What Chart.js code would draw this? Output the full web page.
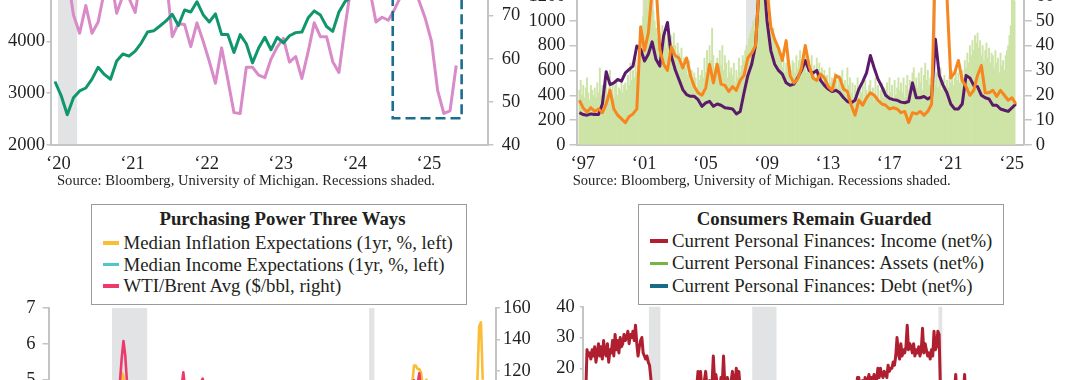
<!DOCTYPE html>
<html lang="en">
<head>
<meta charset="utf-8">
<title>Consumer survey panels</title>
<script src="https://cdn.jsdelivr.net/npm/chart.js@4.4.1/dist/chart.umd.min.js"></script>
<style>
  html, body { margin: 0; padding: 0; }
  body {
    width: 1080px; height: 380px; overflow: hidden; position: relative; background: #fff;
    font-family: "Liberation Serif", "Times New Roman", serif; color: #231f20;
  }
  canvas { position: absolute; }
  .source { position: absolute; font-size: 14.6px; line-height: 18px; white-space: nowrap; }
  .legend { position: absolute; box-sizing: border-box; border: 1.5px solid #9b9b9b; background: #fff; z-index: 2; }
  .legend .title { position: absolute; width: 400px; text-align: center; font-weight: bold; font-size: 18.8px; line-height: 22px; white-space: nowrap; }
  .legend .row { position: absolute; font-size: 18.8px; line-height: 22px; white-space: nowrap; }
  .legend .sw { position: absolute; height: 3.5px; }
</style>
</head>
<body>

<!-- top left: S&P 500 vs consumer expectations -->
<canvas id="sentChart" width="540" height="330" style="left:0;top:-140px;width:540px;height:330px"></canvas>
<div class="source" style="left:57px;top:171px">Source: Bloomberg, University of Michigan. Recessions shaded.</div>

<!-- top right: two survey lines over bars -->
<canvas id="laborChart" width="560" height="250" style="left:520px;top:-60px;width:560px;height:250px"></canvas>
<div class="source" style="left:572.7px;top:171px">Source: Bloomberg, University of Michigan. Recessions shaded.</div>

<!-- bottom left -->
<canvas id="powerChart" width="540" height="340" style="left:0;top:290px;width:540px;height:340px"></canvas>
<div class="legend" style="left:91px;top:203.5px;width:375.7px;height:101.5px">
  <div class="title" style="left:-9.5px;top:3px">Purchasing Power Three Ways</div>
  <span class="sw" style="left:10.5px;top:36.5px;width:16px;background:#fbbd35"></span>
  <div class="row" style="left:31.5px;top:27.3px">Median Inflation Expectations (1yr, %, left)</div>
  <span class="sw" style="left:10.5px;top:58.2px;width:16px;background:#4fc6c9"></span>
  <div class="row" style="left:31.5px;top:49px">Median Income Expectations (1yr, %, left)</div>
  <span class="sw" style="left:10.5px;top:79.9px;width:16px;background:#ec3b6a"></span>
  <div class="row" style="left:31.5px;top:70.7px">WTI/Brent Avg ($/bbl, right)</div>
</div>

<!-- bottom right -->
<canvas id="financeChart" width="540" height="340" style="left:540px;top:290px;width:540px;height:340px"></canvas>
<div class="legend" style="left:637.5px;top:204px;width:366.7px;height:101px">
  <div class="title" style="left:-24.4px;top:2.5px">Consumers Remain Guarded</div>
  <span class="sw" style="left:11px;top:34px;width:18px;background:#b01f30"></span>
  <div class="row" style="left:33.6px;top:24.7px">Current Personal Finances: Income (net%)</div>
  <span class="sw" style="left:11px;top:56.5px;width:18px;background:#74b444"></span>
  <div class="row" style="left:33.6px;top:47.2px">Current Personal Finances: Assets (net%)</div>
  <span class="sw" style="left:11px;top:79px;width:18px;background:#1a6a8a"></span>
  <div class="row" style="left:33.6px;top:69.7px">Current Personal Finances: Debt (net%)</div>
</div>

<script>
// ---- data ----

// top left panel, monthly from Jan 2020
const sentStart = 2020;
const spxMonthly = [
  3225.5, 2954.2, 2584.6, 2912.4, 3044.3, 3100.3, 3271.1, 3500.3, 3363.0, 3270.0, 3621.6, 3756.1,
  3714.2, 3811.2, 3972.9, 4181.2, 4204.1, 4297.5, 4395.3, 4522.7, 4307.5, 4605.4, 4567.0, 4766.2,
  4515.6, 4373.9, 4530.4, 4131.9, 4132.2, 3785.4, 4130.3, 3955.0, 3585.6, 3872.0, 4080.1, 3839.5,
  4076.6, 3970.2, 4109.3, 4169.5, 4179.8, 4450.4, 4589.0, 4507.7, 4288.1, 4193.8, 4567.8, 4769.8,
  4845.7, 5096.3, 5254.4, 5035.7, 5277.5, 5460.5, 5522.3, 5648.4, 5762.5, 5705.5, 6032.4, 5881.6,
  6040.5, 5954.5, 5611.9, 5569.1, 5911.7, 6205.0
];
const expectationsMonthly = [
  90.5, 92.1, 79.7, 70.1, 65.9, 72.3, 65.9, 68.5, 75.6, 79.2, 70.5, 74.6,
  74.0, 70.7, 79.7, 82.7, 76.8, 83.5, 79.0, 65.1, 68.1, 67.9, 62.8, 68.3,
  64.1, 59.4, 54.3, 62.5, 55.2, 47.5, 47.3, 58.0, 58.0, 56.2, 55.6, 59.9,
  62.7, 64.7, 59.2, 60.5, 55.4, 61.5, 68.3, 65.1, 65.1, 59.3, 56.8, 67.4,
  77.1, 74.6, 77.4, 76.0, 68.5, 69.6, 68.9, 71.4, 74.4, 74.1, 76.9, 73.3,
  69.3, 64.0, 52.6, 47.3, 47.9, 58.4
];
const sentYears = [2020, 2021, 2022, 2023, 2024, 2025];
const sentRecessions = [[2020.04, 2020.30]];
const watchBox = [2024.56, 2025.49, 46.2, 96]; // x from, x to, right-axis low, right-axis high

// top right panel: monthly bars from Jan 1997 (right axis), quarterly lines (left axis)
const laborStart = 1997;
const barsMonthly = [
  22, 26, 20, 24, 19, 23, 27, 21, 18, 24, 22, 20,
  23, 19, 25, 21, 31, 20, 24, 18, 22, 25, 20, 23,
  30, 21, 25, 19, 24, 26, 20, 23, 22, 26, 21, 24,
  25, 22, 28, 24, 33, 26, 30, 27, 35, 29, 32, 36,
  44, 48, 52, 58, 61, 55, 59, 63, 57, 60, 54, 50,
  47, 43, 50, 45, 41, 48, 44, 46, 39, 45, 42, 40,
  44, 38, 45, 40, 36, 41, 37, 34, 39, 33, 35, 31,
  32, 28, 34, 26, 30, 24, 29, 27, 23, 31, 26, 28,
  30, 27, 35, 29, 38, 32, 40, 34, 47, 36, 31, 33,
  35, 29, 38, 32, 40, 30, 36, 33, 27, 34, 29, 31,
  28, 33, 25, 30, 27, 35, 29, 32, 36, 34, 38, 40,
  40, 43, 45, 47, 50, 46, 51, 60, 62, 64, 66, 68,
  66, 63, 60, 56, 52, 49, 46, 44, 47, 42, 40, 41,
  38, 35, 37, 31, 34, 29, 33, 36, 28, 32, 30, 34,
  33, 29, 36, 31, 34, 38, 30, 35, 32, 37, 29, 33,
  34, 30, 36, 28, 32, 26, 35, 29, 33, 27, 31, 25,
  30, 26, 28, 24, 31, 25, 27, 22, 29, 26, 23, 28,
  28, 24, 30, 22, 26, 20, 31, 24, 27, 21, 25, 19,
  24, 20, 27, 19, 23, 21, 25, 18, 26, 22, 20, 24,
  26, 21, 23, 18, 27, 20, 24, 17, 22, 25, 19, 23,
  22, 25, 19, 27, 21, 24, 18, 26, 20, 23, 27, 22,
  25, 21, 27, 19, 24, 28, 22, 26, 20, 29, 31, 24,
  27, 23, 29, 25, 31, 22, 28, 33, 26, 30, 24, 27,
  28, 30, 26, 24, 29, 23, 27, 31, 22, 26, 28, 24,
  26, 23, 28, 25, 30, 24, 27, 31, 26, 29, 25, 28,
  30, 27, 34, 31, 37, 33, 40, 36, 42, 38, 44, 41,
  45, 39, 42, 36, 40, 34, 38, 41, 35, 39, 33, 37,
  36, 31, 38, 33, 35, 29, 37, 32, 34, 30, 36, 38,
  40, 44, 48, 60, 62, 58
];
const purpleQuarterly = [
  260, 245, 240, 250,   245, 245, 330, 590,   486, 500, 527, 514,   581, 608, 635, 797,
  770, 676, 730, 830,   689, 635, 878, 986,   716, 608, 527, 446,   405, 392, 392, 365,
  311, 338, 351, 311,   330, 320, 300, 295,   290, 250, 270, 420,   560, 650, 800, 1300,
  1400, 1000, 760, 650, 600, 570, 500, 480,   490, 540, 600, 680,   600, 580, 600, 520,
  480, 450, 430, 440,   420, 380, 350, 340,   360, 450, 510, 580,   720, 620, 530, 470,
  400, 375, 365, 360,   345, 340, 350, 500,   380, 380, 390, 370,   390, 850, 560, 480,
  420, 330, 290, 290,   330, 560, 540, 480,   470, 400, 380, 370,   320, 320, 290, 280,
  270, 300, 330
];
const orangeQuarterly = [
  360, 297, 265, 300,   270, 290, 260, 330,   440, 290, 240, 210,   180, 230, 250, 290,
  950, 760, 900, 1250,  1300, 770, 650, 600,  790, 720, 700, 620,   700, 560, 470, 420,
  400, 460, 650, 500,   650, 490, 480, 430,   470, 440, 520, 560,   700, 740, 800, 1300,
  1400, 1250, 950, 850, 780, 680, 840, 560,   500, 530, 620, 800,   640, 540, 520, 570,
  540, 470, 440, 560,   540, 450, 430, 320,   240, 360, 320, 380,   420, 400, 360, 330,
  320, 290, 300, 290,   260, 270, 180, 260,   250, 270, 240, 270,   330, 1500, 1500, 1400,
  1200, 540, 580, 680,  520, 470, 400, 440,   560, 640, 420, 420,   440, 390, 440, 400,
  360, 380, 330
];
const laborYears = [1997, 2001, 2005, 2009, 2013, 2017, 2021, 2025];
const laborRecessions = [[2001.125, 2001.875], [2007.875, 2009.46], [2020.04, 2020.29]];

// bottom left panel, monthly from Jan 2005
const powerStart = 2005;
const inflationExpMonthly = [
  2.9, 3.0, 3.1, 3.3, 2.8, 2.9, 3.2, 3.6, 4.6, 4.3, 3.1, 3.1,
  3.0, 2.9, 3.0, 3.4, 4.0, 3.3, 3.2, 3.1, 2.8, 3.0, 2.9, 2.8,
  3.0, 2.9, 3.1, 3.4, 3.3, 3.1, 3.0, 3.1, 3.1, 3.0, 3.4, 3.4,
  3.4, 3.6, 4.3, 4.8, 5.2, 5.1, 4.4, 4.8, 4.4, 3.1, 2.4, 1.7,
  1.7, 2.3, 2.4, 2.6, 2.8, 3.1, 2.9, 2.8, 2.2, 2.9, 2.8, 2.6,
  2.8, 2.7, 2.7, 2.9, 3.1, 2.7, 2.7, 2.7, 2.2, 2.8, 3.0, 2.6,
  3.4, 3.4, 4.6, 4.6, 4.6, 4.1, 3.4, 3.5, 3.2, 3.3, 3.3, 3.2,
  3.0, 3.3, 3.9, 3.7, 3.1, 3.0, 2.7, 3.5, 3.6, 3.1, 2.9, 2.8,
  3.4, 3.2, 3.1, 3.0, 3.1, 3.0, 3.2, 3.2, 2.9, 2.9, 2.9, 3.1,
  3.1, 3.2, 3.2, 3.2, 3.3, 3.3, 3.2, 3.2, 2.9, 3.0, 2.8, 2.8,
  2.5, 2.8, 3.0, 2.5, 2.6, 2.8, 2.8, 2.7, 2.9, 2.7, 2.6, 2.6,
  2.6, 2.5, 2.7, 2.5, 2.5, 2.6, 2.6, 2.5, 2.5, 2.5, 2.4, 2.2,
  2.6, 2.7, 2.4, 2.5, 2.6, 2.6, 2.6, 2.6, 2.7, 2.4, 2.5, 2.6,
  2.7, 2.7, 2.8, 2.7, 2.7, 3.0, 2.7, 2.8, 2.7, 2.9, 2.8, 2.7,
  2.5, 2.6, 2.5, 2.5, 2.8, 2.6, 2.6, 2.7, 2.8, 2.5, 2.5, 2.3,
  2.5, 2.4, 2.2, 2.1, 3.2, 3.0, 2.5, 3.1, 2.7, 2.6, 2.8, 2.5,
  3.0, 3.3, 3.1, 3.4, 4.6, 4.2, 4.7, 4.6, 4.6, 4.8, 4.9, 4.8,
  4.9, 4.9, 5.4, 5.4, 5.3, 5.3, 5.2, 4.8, 4.7, 5.0, 4.9, 4.4,
  3.9, 4.1, 3.6, 4.6, 4.2, 3.3, 3.4, 3.5, 3.2, 4.2, 4.5, 3.1,
  2.9, 3.0, 2.9, 3.2, 3.3, 3.0, 2.9, 2.8, 2.7, 2.7, 2.6, 2.8,
  3.3, 4.3, 5.0, 6.5, 6.6, 5.0
];
const oilMonthly = [
  48, 48, 54, 53, 49, 55, 58, 64, 63, 60, 57, 58,
  64, 61, 62, 70, 70, 70, 74, 73, 63, 59, 59, 62,
  54, 59, 61, 66, 66, 70, 75, 72, 78, 84, 93, 91,
  92, 95, 104, 113, 128, 139, 130, 113, 102, 75, 56, 42,
  43, 43, 47, 51, 58, 69, 65, 72, 68, 74, 77, 75,
  77, 75, 80, 84, 75, 75, 76, 77, 77, 83, 85, 90,
  93, 97, 110, 119, 109, 107, 107, 98, 98, 96, 104, 104,
  105, 113, 115, 110, 101, 88, 93, 102, 103, 99, 97, 98,
  102, 105, 100, 97, 98, 99, 106, 109, 108, 104, 101, 103,
  101, 105, 104, 105, 106, 109, 104, 99, 95, 86, 77, 61,
  48, 55, 52, 58, 62, 61, 54, 46, 47, 47, 43, 37,
  31, 32, 39, 42, 47, 49, 45, 46, 46, 50, 46, 53,
  54, 55, 51, 52, 50, 46, 48, 50, 53, 55, 59, 61,
  66, 64, 65, 69, 73, 71, 72, 71, 75, 76, 61, 53,
  56, 61, 63, 68, 66, 59, 60, 57, 60, 57, 60, 63,
  60, 54, 32, 21, 30, 40, 42, 43, 40, 39, 42, 48,
  53, 60, 64, 63, 67, 72, 74, 69, 74, 82, 80, 73,
  85, 93, 114, 105, 112, 118.5, 104, 94, 87, 89, 84, 79,
  80, 80, 76, 81, 73, 73, 78, 84, 91, 87, 80, 76,
  77, 80, 83, 87, 81, 80, 83, 78, 72, 73, 71, 72,
  77, 73, 69, 64, 62, 68
];
const incomeExpYearly = [2.9, 3.0, 2.9, 2.3, 1.2, 1.0, 0.9, 1.0, 1.2, 1.4, 1.6, 1.7, 1.9, 2.1, 2.3, 1.8, 2.0, 2.9, 3.2, 2.9, 2.5];
const powerYears = [2005, 2009, 2013, 2017, 2021, 2025];
const powerRecessions = [[2007.875, 2009.54], [2020.04, 2020.29]];

// bottom right panel: income monthly from Jan 1997, assets and debt yearly
const financeStart = 1997;
const incomeNetMonthly = [
  12, 26, 24, 25, 23, 26, 24, 27, 22, 25, 28, 24,
  27, 23, 29, 25, 24, 28, 22, 26, 25, 29, 24, 31,
  26, 29, 25, 30, 27, 28, 31, 29, 30, 32, 28, 31,
  30, 32, 29, 34, 28, 24, 27, 29, 30, 25, 24, 23,
  24, 22, 21, 17, 12, 8, 10, 6, 4, 2, 5, 7,
  8, 10, 12, 9, 11, 7, 6, 9, 5, 7, 8, 6,
  5, 8, 3, 6, 9, 7, 10, 8, 11, 9, 12, 10,
  11, 13, 12, 14, 19, 14, 19, 13, 15, 16, 19, 14,
  15, 16, 14, 15, 24, 16, 18, 15, 14, 13, 17, 15,
  24, 15, 14, 17, 15, 14, 16, 19, 15, 14, 20, 15,
  19, 14, 15, 13, 12, 14, 11, 12, 10, 9, 8, 7,
  4, 2, -3, -5, -8, -10, -12, -9, -11, -14, -16, -15,
  -18, -20, -17, -15, -14, -12, -10, -11, -9, -8, -10, -7,
  -6, -7, -4, -5, -3, -2, -4, -1, -3, 0, -2, 1,
  0, -1, -3, -2, -4, -1, -5, -6, -4, -3, -1, 0,
  2, 1, 3, 4, 2, 5, 3, 1, 4, 6, 5, 7,
  6, 5, 8, 7, 9, 6, 10, 8, 11, 9, 12, 10,
  9, 11, 10, 12, 11, 13, 12, 14, 13, 17, 17, 14,
  15, 16, 14, 17, 15, 16, 18, 15, 17, 16, 18, 17,
  16, 20, 17, 20, 18, 17, 19, 18, 17, 21, 19, 20,
  20, 22, 21, 24, 30, 25, 23, 28, 24, 26, 25, 27,
  34, 26, 28, 27, 25, 28, 24, 26, 25, 27, 24, 26,
  33, 25, 28, 26, 24, 25, 23, 26, 24, 32, 26, 27,
  32, 31, 14, -6, -9, -7, -4, -2, -5, -1, -2, 1,
  8, 12, 18, 11, 9, 12, 8, 10, 12, 18, 9, 7,
  5, 3, 0, -2, -4, -6, -5, -3, -4, -2, -5, -3,
  -2, 0, -1, 1, 3, 0, 2, 4, 1, 3, 0, 2,
  3, 1, 4, 2, 5, 3, 1, 4, 6, 3, 5, 2,
  3, 0, -2, -4, -5, -1
];
const assetsNetYearly = [5, 8, 10, 9, 0, -5, -3, 2, 4, 3, 0, -12, -18, -12, -10, -6, -2, 0, 3, 5, 7, 8, 9, 2, 6, 0, -2, 1, -1];
const debtNetYearly = [-2, 0, 1, 0, -3, -4, -3, -2, -1, -2, -4, -8, -10, -6, -4, -3, -1, 0, 1, 2, 2, 3, 3, -1, 1, -4, -5, -3, -4];
const financeRecessions = [[2001.125, 2001.875], [2007.875, 2009.46], [2020.04, 2020.29]];

// ---- helpers ----
const ink = '#231f20';
const axisGray = '#c4c4c4';
Chart.defaults.font.family = '"Liberation Serif", "Times New Roman", serif';

const monthly = (start, values) => values.map((v, i) => ({ x: start + i / 12, y: v }));
const quarterly = (start, values) => values.map((v, i) => ({ x: start + i / 4, y: v }));
const yearly = (start, values) => values.map((v, i) => ({ x: start + i + 0.5, y: v }));

// grey recession bands, drawn under everything else
function shading(periods) {
  return {
    id: 'shading',
    beforeDraw(chart) {
      const { ctx, chartArea: a, scales: { x } } = chart;
      ctx.save();
      ctx.fillStyle = '#e2e3e5';
      periods.forEach(([from, to]) => {
        const x0 = x.getPixelForValue(from);
        const x1 = x.getPixelForValue(to);
        ctx.fillRect(x0, a.top, x1 - x0, a.bottom - a.top);
      });
      ctx.restore();
    }
  };
}

// dashed highlight box on the top-left panel
const watchBoxPlugin = {
  id: 'watchBox',
  afterDatasetsDraw(chart) {
    const { ctx, scales: { x, y1 } } = chart;
    const [from, to, low, high] = watchBox;
    const x0 = x.getPixelForValue(from), x1 = x.getPixelForValue(to);
    const yb = y1.getPixelForValue(low), yt = y1.getPixelForValue(high);
    ctx.save();
    ctx.strokeStyle = '#1c6d8e';
    ctx.lineWidth = 2.6;
    ctx.setLineDash([10, 5]);
    ctx.strokeRect(x0, yt, x1 - x0, yb - yt);
    ctx.restore();
  }
};

function yScale(position, min, max, step, width, tickLength, padding) {
  return {
    type: 'linear', position, min, max,
    afterFit: (s) => { s.width = width; },
    border: { display: true, color: axisGray, width: 2 },
    grid: { drawOnChartArea: false, drawTicks: true, tickLength, color: axisGray, lineWidth: 1.5 },
    ticks: {
      stepSize: step, padding, autoSkip: false, color: ink, font: { size: 18.5 },
      callback: (v) => String(v)
    }
  };
}

function xScale(min, max, years, height) {
  return {
    type: 'linear', min, max, offset: false,
    afterBuildTicks: (s) => { s.ticks = years.map((v) => ({ value: v })); },
    afterFit: (s) => { s.height = height; },
    border: { display: true, color: axisGray, width: 2 },
    grid: { display: false },
    ticks: {
      autoSkip: false, maxRotation: 0, padding: 0, labelOffset: 3.5, color: ink, font: { size: 18.5 },
      callback: (v) => '\u2018' + String(v).slice(2)
    }
  };
}

function lineSet(label, data, color, width, axis, order) {
  return {
    type: 'line', label, data, borderColor: color, backgroundColor: color, borderWidth: width,
    pointRadius: 0, tension: 0, borderJoinStyle: 'round', yAxisID: axis, order
  };
}

function options(padding, scales) {
  return {
    responsive: false, animation: false, events: [],
    layout: { padding },
    plugins: { legend: { display: false }, tooltip: { enabled: false } },
    scales
  };
}

// ---- top left ----
new Chart(document.getElementById('sentChart'), {
  type: 'line',
  data: {
    datasets: [
      lineSet('S&P 500', monthly(sentStart, spxMonthly), '#10966c', 3, 'y', 0),
      lineSet('Consumer Expectations', monthly(sentStart, expectationsMonthly), '#d98ac8', 3, 'y1', 1)
    ]
  },
  options: options({ top: 26, left: 0, right: 0, bottom: 0 }, {
    x: xScale(2019.94, 2025.85, sentYears, 45),
    y: yScale('left', 2000, 7000, 1000, 50.5, 4, 1.5),
    y1: yScale('right', 40, 100, 10, 51.7, 5, 8.5)
  }),
  plugins: [shading(sentRecessions), watchBoxPlugin]
});

// ---- top right ----
new Chart(document.getElementById('laborChart'), {
  type: 'bar',
  data: {
    datasets: [
      lineSet('Orange series', quarterly(laborStart, orangeQuarterly), '#f7861e', 3, 'y', 0),
      lineSet('Purple series', quarterly(laborStart, purpleQuarterly), '#5c1a6b', 3, 'y', 1),
      {
        type: 'bar', label: 'Bars', data: monthly(laborStart, barsMonthly), yAxisID: 'y1', order: 2,
        backgroundColor: '#cde4a6', barPercentage: 1, categoryPercentage: 1
      }
    ]
  },
  options: options({ top: 31, left: 0, right: 0, bottom: 0 }, {
    x: xScale(1996.81, 2026.02, laborYears, 45),
    y: yScale('left', 0, 1400, 200, 56.5, 7, 4),
    y1: yScale('right', 0, 70, 10, 56.2, 8, 4)
  }),
  plugins: [shading(laborRecessions)]
});

// ---- bottom left ----
new Chart(document.getElementById('powerChart'), {
  type: 'line',
  data: {
    datasets: [
      lineSet('WTI/Brent Avg', monthly(powerStart, oilMonthly), '#ec3b6a', 2.6, 'y1', 0),
      lineSet('Median Inflation Expectations', monthly(powerStart, inflationExpMonthly), '#fbbd35', 2.6, 'y', 1),
      lineSet('Median Income Expectations', yearly(powerStart, incomeExpYearly), '#4fc6c9', 2.6, 'y', 2)
    ]
  },
  options: options({ top: 14, left: 0, right: 0, bottom: 0 }, {
    x: xScale(2004.87, 2026.04, powerYears, 71),
    y: yScale('left', 0, 7, 1, 48.5, 6, 7),
    y1: yScale('right', 0, 160, 20, 44.1, 4, 3)
  }),
  plugins: [shading(powerRecessions)]
});

// ---- bottom right ----
new Chart(document.getElementById('financeChart'), {
  type: 'line',
  data: {
    datasets: [
      lineSet('Income', monthly(financeStart, incomeNetMonthly), '#b01f30', 3, 'y', 0),
      lineSet('Assets', yearly(financeStart, assetsNetYearly), '#74b444', 3, 'y', 1),
      lineSet('Debt', yearly(financeStart, debtNetYearly), '#1a6a8a', 3, 'y', 2)
    ]
  },
  options: options({ top: 16.7, left: 0, right: 50, bottom: 0 }, {
    x: xScale(1996.84, 2026.02, laborYears, 76.9),
    y: yScale('left', -40, 40, 10, 43.3, 3.5, 5)
  }),
  plugins: [shading(financeRecessions)]
});
</script>
</body>
</html>
